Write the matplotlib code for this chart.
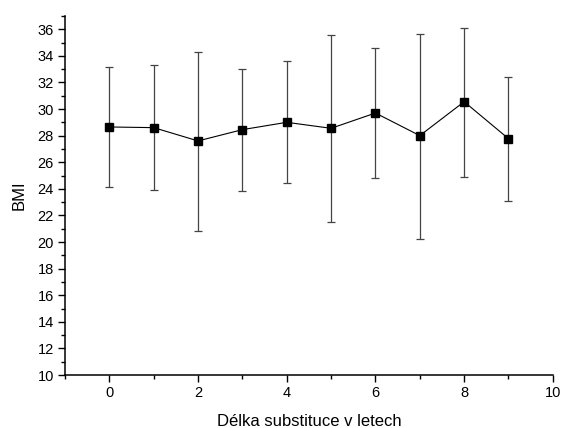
import matplotlib
matplotlib.use("Agg")
from matplotlib import pyplot as plt
from matplotlib.ticker import MultipleLocator

plt.rcParams['font.family'] = ['Liberation Sans', 'DejaVu Sans']

# délka substituce (roky) a BMI
years = [0, 1, 2, 3, 4, 5, 6, 7, 8, 9]
bmi = [28.65, 28.6, 27.6, 28.45, 29.0, 28.55, 29.7, 28.0, 30.55, 27.77]
bmi_hi = [33.15, 33.3, 34.3, 33.0, 33.6, 35.6, 34.6, 35.65, 36.1, 32.38]
bmi_lo = [24.1, 23.9, 20.8, 23.85, 24.4, 21.5, 24.85, 20.25, 24.9, 23.1]

err_lo = [m - l for m, l in zip(bmi, bmi_lo)]
err_hi = [h - m for m, h in zip(bmi, bmi_hi)]

fig = plt.figure(figsize=(5.62, 4.28), dpi=100)
ax = fig.add_axes([0.1157, 0.1238, 0.868, 0.839])

ax.errorbar(years, bmi, yerr=[err_lo, err_hi], fmt='none', ecolor='#444444',
            elinewidth=0.9, capsize=3, capthick=0.9, zorder=2)
ax.plot(years, bmi, color='black', lw=0.8, marker='s', markersize=6,
        markerfacecolor='black', zorder=3)

ax.set_xlim(-1, 10)
ax.set_ylim(10, 37)
ax.xaxis.set_major_locator(MultipleLocator(2))
ax.xaxis.set_minor_locator(MultipleLocator(1))
ax.yaxis.set_major_locator(MultipleLocator(2))
ax.yaxis.set_minor_locator(MultipleLocator(1))

ax.spines['top'].set_visible(False)
ax.spines['right'].set_visible(False)
for s in ('left', 'bottom'):
    ax.spines[s].set_linewidth(1.1)

ax.tick_params(which='major', direction='out', length=5, width=1, labelsize=10.5, pad=3)
ax.tick_params(which='minor', direction='out', length=3, width=1)

ax.set_xlabel('Délka substituce v letech', fontsize=12, labelpad=10)
ax.set_ylabel('BMI', fontsize=12, labelpad=8)

fig.savefig('out.png', dpi=100)
